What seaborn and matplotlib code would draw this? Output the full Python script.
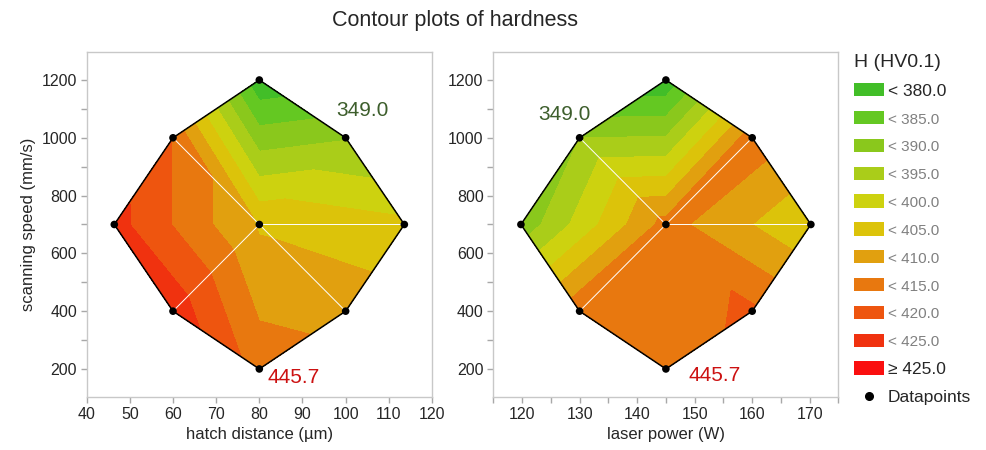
import numpy as np
import matplotlib
matplotlib.use("Agg")
import matplotlib.pyplot as plt
import matplotlib.tri as mtri
from matplotlib.patches import Patch
from matplotlib.lines import Line2D
from matplotlib.ticker import MultipleLocator
import seaborn as sns

# central composite design, same point order in both panels:
# top, upper-left, upper-right, left, centre, right, lower-left, lower-right, bottom
speed = [1200, 1000, 1000, 700, 700, 700, 400, 400, 200]
hatch = [80, 60, 100, 46.4, 80, 113.6, 60, 100, 80]
power = [145, 130, 160, 119.8, 145, 170.2, 130, 160, 145]
hardness_hatch = [376.0, 414.8, 389.5, 421.9, 404.4, 401.2, 423.3, 408.1, 412.8]
hardness_power = [376.0, 390.0, 413.3, 386.5, 411.9, 400.3, 414.0, 416.0, 412.8]

levels = [380, 385, 390, 395, 400, 405, 410, 415, 420, 425]
level_colors = ["#42be28", "#64c822", "#8ac81c", "#aacd19", "#cdd20f", "#dcc30a",
                "#e1a00f", "#e8780f", "#ee550f", "#f0320f", "#fa0f0f"]
legend_labels = ["< 380.0", "< 385.0", "< 390.0", "< 395.0", "< 400.0", "< 405.0",
                 "< 410.0", "< 415.0", "< 420.0", "< 425.0", "\u2265 425.0"]
min_label = "349.0"
max_label = "445.7"

sns.set_style("white")
plt.rcParams["font.family"] = ["Liberation Sans", "DejaVu Sans"]

fig = plt.figure(figsize=(9.86, 4.5), dpi=100)
ax1 = fig.add_axes([0.0879, 0.1178, 0.3502, 0.7667])
ax2 = fig.add_axes([0.5003, 0.1178, 0.3501, 0.7667])

spd = np.array(speed, dtype=float)


def panel(ax, xvals, zvals, xcentre, xstep, spokes, min_pos, max_pos):
    x = np.array(xvals, dtype=float)
    # triangulate in coded (dimensionless) units, plot in real units
    xc = (x - xcentre) / xstep
    yc = (spd - 700) / 300
    tri = mtri.Triangulation(x, spd, triangles=mtri.Triangulation(xc, yc).triangles)
    ax.tricontourf(tri, zvals, levels=[300] + levels + [500], colors=level_colors)

    centre = int(np.argmin(xc ** 2 + yc ** 2))
    for i in spokes:
        ax.plot([x[centre], x[i]], [spd[centre], spd[i]], color="white", lw=0.7, zorder=3)

    outer = [i for i in range(len(x)) if i != centre]
    outer = sorted(outer, key=lambda i: np.arctan2(yc[i], xc[i]))
    outer = outer + outer[:1]
    ax.plot(x[outer], spd[outer], color="black", lw=1.1, zorder=4)

    sns.scatterplot(x=x, y=spd, color="black", s=30, edgecolor="none",
                    ax=ax, zorder=5, legend=False)

    ax.text(*min_pos, min_label, color="#3d5e2c", fontsize=15, ha="center", va="center")
    ax.text(*max_pos, max_label, color="#cc1111", fontsize=15, ha="center", va="center")

    ax.set_ylim(103, 1297)
    ax.yaxis.set_major_locator(MultipleLocator(200))
    ax.yaxis.set_minor_locator(MultipleLocator(100))
    for s in ax.spines.values():
        s.set_color("#c8c8c8")
        s.set_linewidth(1.0)
    ax.tick_params(which="both", direction="out", length=4, width=1,
                   color="#a8a8a8", labelsize=11.5, pad=3)
    ax.tick_params(left=True, bottom=True, which="both")


panel(ax1, hatch, hardness_hatch, 80, 20, [1, 5, 6, 7], (103.8, 1096), (87.9, 172))
ax1.set_xlim(40, 120)
ax1.xaxis.set_major_locator(MultipleLocator(10))
ax1.set_xlabel("hatch distance (\u00b5m)", fontsize=12)
ax1.set_ylabel("scanning speed (mm/s)", fontsize=12)

panel(ax2, power, hardness_power, 145, 15, [1, 2, 5, 6], (127.4, 1079), (153.5, 176))
ax2.set_xlim(115, 175)
ax2.xaxis.set_major_locator(MultipleLocator(10))
ax2.xaxis.set_minor_locator(MultipleLocator(5))
ax2.set_xlabel("laser power (W)", fontsize=12)

fig.suptitle("Contour plots of hardness", x=0.4615, y=0.955, va="center", fontsize=15.5)

handles = [Patch(facecolor=c, edgecolor="none") for c in level_colors]
handles.append(Line2D([], [], marker="o", color="black", ls="none", markersize=5.5))
leg = fig.legend(handles, legend_labels + ["Datapoints"], loc="upper left",
                 bbox_to_anchor=(0.866, 0.88), frameon=False, fontsize=12.5,
                 title="H (HV0.1)", title_fontsize=14, alignment="left",
                 handlelength=1.75, handleheight=0.8, handletextpad=0.2,
                 labelspacing=0.7, borderpad=0, borderaxespad=0)
for i, t in enumerate(leg.get_texts()):
    if 0 < i < len(level_colors) - 1:
        t.set_color("#808080")
        t.set_fontsize(11)

fig.savefig("out.png", dpi=100)
